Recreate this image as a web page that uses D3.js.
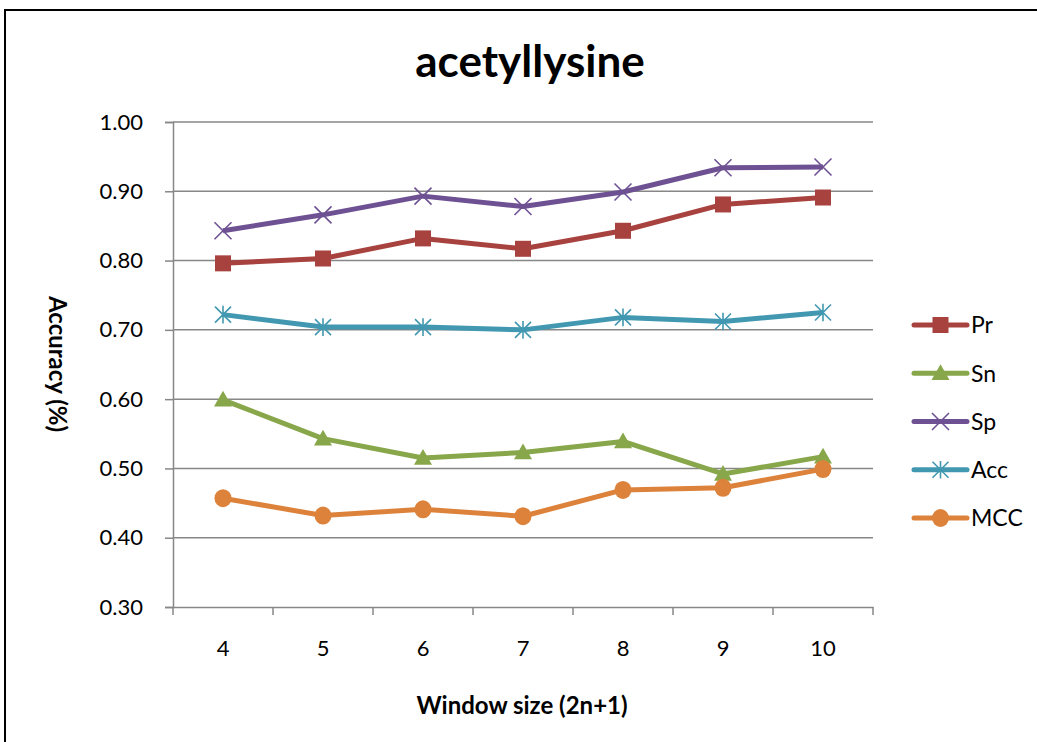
<!DOCTYPE html>
<html>
<head>
<meta charset="utf-8">
<script src="https://cdn.jsdelivr.net/npm/d3@7"></script>
<style>
  html, body { margin: 0; padding: 0; background: #fff; }
  svg { display: block; }
  text { font-family: Lato, "Open Sans", sans-serif; }
</style>
</head>
<body>
<svg id="chart" width="1037" height="742"></svg>
<script>
// Window sizes on the x axis
const windowSizes = ["4", "5", "6", "7", "8", "9", "10"];

// Metric values per window size
const prValues  = [0.796, 0.803, 0.832, 0.817, 0.843, 0.881, 0.891];
const snValues  = [0.599, 0.543, 0.515, 0.523, 0.539, 0.492, 0.517];
const spValues  = [0.843, 0.866, 0.893, 0.878, 0.899, 0.934, 0.935];
const accValues = [0.722, 0.704, 0.704, 0.700, 0.718, 0.712, 0.725];
const mccValues = [0.457, 0.432, 0.441, 0.431, 0.469, 0.472, 0.499];

const seriesNames = ["Pr", "Sn", "Sp", "Acc", "MCC"];
const yTicks = [0.30, 0.40, 0.50, 0.60, 0.70, 0.80, 0.90, 1.00];

const series = [
  { name: "Pr",  values: prValues,  color: "#A7423F", marker: "square" },
  { name: "Sn",  values: snValues,  color: "#88A64A", marker: "triangle" },
  { name: "Sp",  values: spValues,  color: "#6E5193", marker: "x" },
  { name: "Acc", values: accValues, color: "#4198B0", marker: "star" },
  { name: "MCC", values: mccValues, color: "#DD823B", marker: "circle" }
];

const svg = d3.select("#chart");
const plot = { left: 173, right: 873, top: 122, bottom: 607 };
const axisGrey = "#878787";

// Outer chart frame
svg.append("rect")
  .attr("x", 5).attr("y", 10)
  .attr("width", 1100).attr("height", 800)
  .attr("fill", "none").attr("stroke", "#000").attr("stroke-width", 2);

const x = d3.scaleBand().domain(windowSizes).range([plot.left, plot.right]).padding(0);
const y = d3.scaleLinear().domain([0.30, 1.00]).range([plot.bottom, plot.top]);

// Horizontal gridlines
svg.append("g")
  .selectAll("line")
  .data(yTicks.slice(1))
  .join("line")
  .attr("x1", plot.left).attr("x2", plot.right)
  .attr("y1", d => y(d)).attr("y2", d => y(d))
  .attr("stroke", axisGrey).attr("stroke-width", 1.5);

// Y axis
const yAxis = svg.append("g")
  .attr("transform", `translate(${plot.left},0)`)
  .call(d3.axisLeft(y).tickValues(yTicks).tickFormat(d3.format(".2f")).tickSize(8).tickPadding(22));
yAxis.select(".domain").attr("stroke", axisGrey).attr("stroke-width", 1.5);
yAxis.selectAll(".tick line").attr("stroke", axisGrey).attr("stroke-width", 1.5);
yAxis.selectAll(".tick text").attr("font-size", 22).attr("fill", "#000")
  .style("font-family", "Lato, sans-serif");

// X axis with tick marks between categories
const xAxis = svg.append("g")
  .attr("transform", `translate(0,${plot.bottom})`)
  .call(d3.axisBottom(x).tickSize(0).tickPadding(33));
xAxis.select(".domain").attr("stroke", axisGrey).attr("stroke-width", 1.5);
xAxis.selectAll(".tick text").attr("font-size", 22).attr("fill", "#000")
  .style("font-family", "Lato, sans-serif");
const boundaries = windowSizes.map(d => x(d)).concat([x(windowSizes[windowSizes.length - 1]) + x.bandwidth()]);
xAxis.append("g").selectAll("line")
  .data(boundaries)
  .join("line")
  .attr("x1", d => d).attr("x2", d => d)
  .attr("y1", 0).attr("y2", 8)
  .attr("stroke", axisGrey).attr("stroke-width", 1.5);

const cx = d => x(d) + x.bandwidth() / 2;

// Marker drawing
function drawMarker(g, type, color, px, py) {
  if (type === "square") {
    const h = 8;
    g.append("rect").attr("x", px - h).attr("y", py - h)
      .attr("width", 2 * h).attr("height", 2 * h).attr("fill", color);
  } else if (type === "triangle") {
    const h = 9;
    g.append("path")
      .attr("d", `M${px},${py - h} L${px + h},${py + h * 0.75} L${px - h},${py + h * 0.75} Z`)
      .attr("fill", color);
  } else if (type === "circle") {
    g.append("ellipse").attr("cx", px).attr("cy", py)
      .attr("rx", 8.5).attr("ry", 9).attr("fill", color);
  } else if (type === "x") {
    const h = 8.5;
    g.append("path")
      .attr("d", `M${px - h},${py - h} L${px + h},${py + h} M${px - h},${py + h} L${px + h},${py - h}`)
      .attr("stroke", color).attr("stroke-width", 1.6).attr("fill", "none");
  } else if (type === "star") {
    const h = 8;
    g.append("path")
      .attr("d", `M${px - h},${py - h} L${px + h},${py + h} M${px - h},${py + h} L${px + h},${py - h} M${px},${py - h * 1.1} L${px},${py + h * 1.1}`)
      .attr("stroke", color).attr("stroke-width", 1.6).attr("fill", "none");
  }
}

const line = d3.line().x((d, i) => cx(windowSizes[i])).y(d => y(d));

// Series lines and markers
series.forEach(s => {
  const g = svg.append("g");
  g.append("path").datum(s.values)
    .attr("d", line)
    .attr("fill", "none").attr("stroke", s.color)
    .attr("stroke-width", 5).attr("stroke-linejoin", "round");
  s.values.forEach((v, i) => drawMarker(g, s.marker, s.color, cx(windowSizes[i]), y(v)));
});

// Legend
const legendY = d3.scalePoint().domain(seriesNames).range([325, 518]);
series.forEach(s => {
  const ly = legendY(s.name);
  const g = svg.append("g");
  g.append("line").attr("x1", 914).attr("x2", 967).attr("y1", ly).attr("y2", ly)
    .attr("stroke", s.color).attr("stroke-width", 5).attr("stroke-linecap", "round");
  drawMarker(g, s.marker, s.color, 940.5, ly);
  g.append("text").attr("x", 971).attr("y", ly).attr("dy", "0.36em")
    .attr("font-size", 23).attr("fill", "#000").text(s.name);
});

// Title
svg.append("text").attr("x", 530).attr("y", 77)
  .attr("text-anchor", "middle").attr("font-size", 44).attr("font-weight", "bold")
  .attr("fill", "#000").text("acetyllysine");

// Axis titles
svg.append("text").attr("x", 522).attr("y", 714)
  .attr("text-anchor", "middle").attr("font-size", 24).attr("font-weight", "bold")
  .text("Window size (2n+1)");

svg.append("text")
  .attr("transform", `translate(49,364) rotate(90)`)
  .attr("text-anchor", "middle").attr("font-size", 24).attr("font-weight", "bold")
  .text("Accuracy (%)");
</script>
</body>
</html>
